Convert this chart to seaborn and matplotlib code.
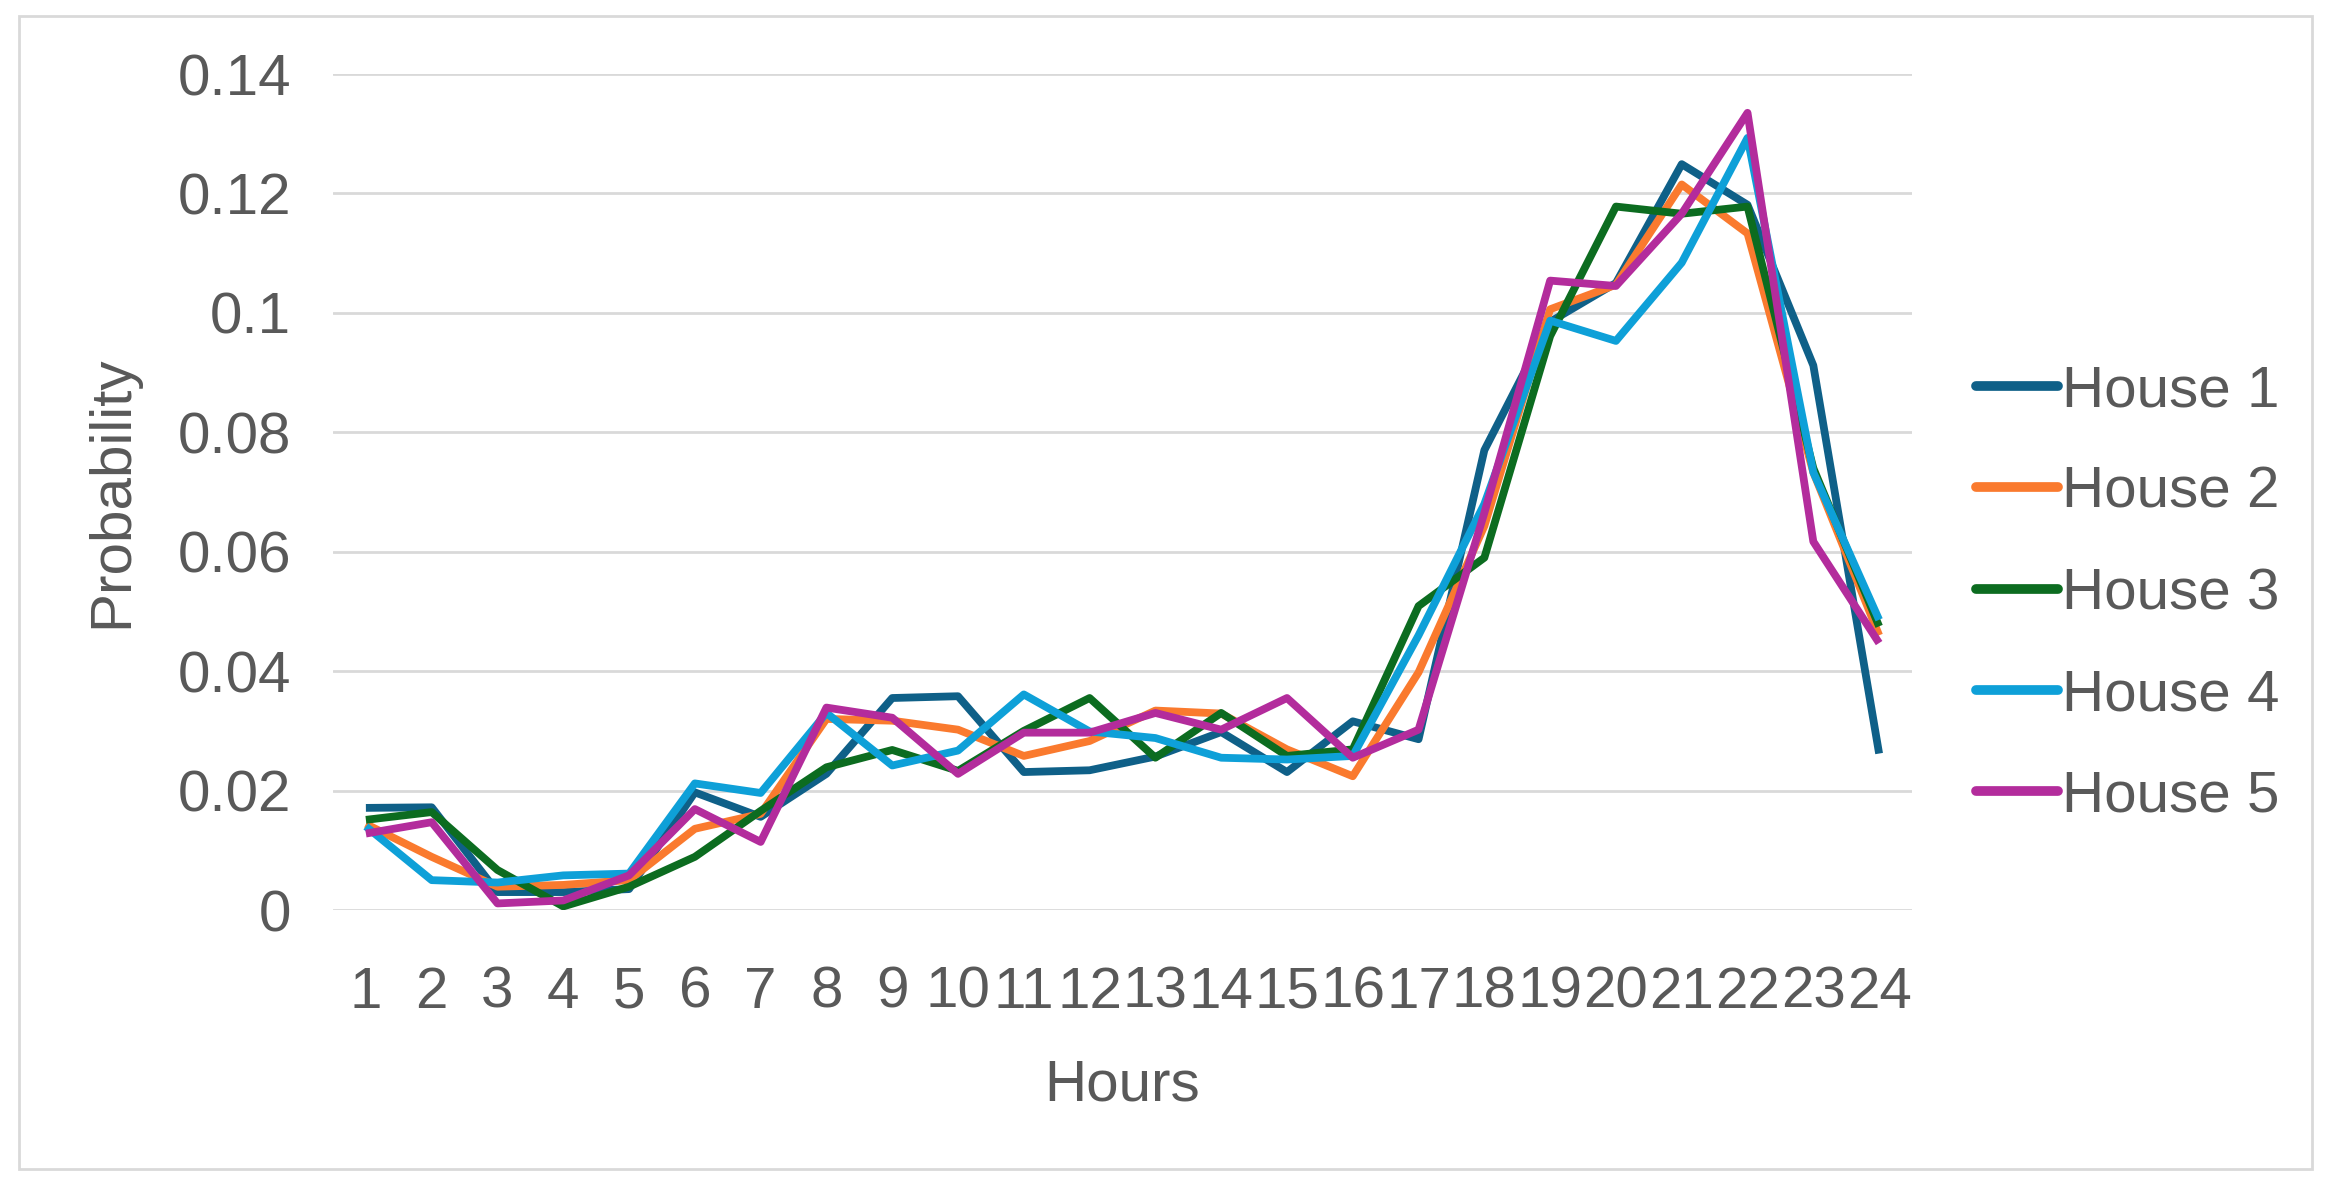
import numpy as np
import pandas as pd
import matplotlib
matplotlib.use("Agg")
import matplotlib.pyplot as plt
import seaborn as sns
from matplotlib.patches import Rectangle

hours = list(range(1, 25))
house1 = [0.0171, 0.0172, 0.0030, 0.0030, 0.0035, 0.0197, 0.0156, 0.0228, 0.0355, 0.0358,
          0.0231, 0.0234, 0.0257, 0.0298, 0.0231, 0.0316, 0.0286, 0.0770, 0.0985, 0.1050,
          0.1249, 0.1181, 0.0912, 0.0262]
house2 = [0.0144, 0.0089, 0.0039, 0.0042, 0.0050, 0.0136, 0.0161, 0.0320, 0.0317, 0.0302,
          0.0258, 0.0283, 0.0334, 0.0329, 0.0269, 0.0224, 0.0398, 0.0643, 0.1006, 0.1047,
          0.1215, 0.1133, 0.0733, 0.0460]
house3 = [0.0151, 0.0164, 0.0067, 0.0006, 0.0039, 0.0089, 0.0166, 0.0239, 0.0268, 0.0233,
          0.0300, 0.0355, 0.0255, 0.0330, 0.0258, 0.0269, 0.0509, 0.0590, 0.0961, 0.1178,
          0.1166, 0.1178, 0.0740, 0.0475]
house4 = [0.0140, 0.0050, 0.0046, 0.0058, 0.0061, 0.0212, 0.0196, 0.0330, 0.0242, 0.0267,
          0.0361, 0.0299, 0.0288, 0.0255, 0.0252, 0.0258, 0.0460, 0.0680, 0.0987, 0.0953,
          0.1084, 0.1293, 0.0733, 0.0486]
house5 = [0.0128, 0.0147, 0.0011, 0.0016, 0.0058, 0.0169, 0.0114, 0.0339, 0.0322, 0.0228,
          0.0297, 0.0297, 0.0330, 0.0302, 0.0355, 0.0255, 0.0302, 0.0665, 0.1054, 0.1045,
          0.1166, 0.1335, 0.0617, 0.0447]
house_names = ["House 1", "House 2", "House 3", "House 4", "House 5"]
colors = ["#0F6088", "#FA7A2E", "#0C6C20", "#0EA0D8", "#B32C9C"]
yticks = [0, 0.02, 0.04, 0.06, 0.08, 0.10, 0.12, 0.14]

series = [house1, house2, house3, house4, house5]
df = pd.DataFrame({
    "Hours": np.tile(hours, len(series)),
    "Probability": np.concatenate(series),
    "House": np.repeat(house_names, len(hours)),
})

sns.set_theme(style="white")
plt.rcParams["font.family"] = ["Liberation Sans", "DejaVu Sans"]
text_color = "#595959"
fs = 42

W, H = 2331, 1199
fig = plt.figure(figsize=(W / 100, H / 100), dpi=100)
ax = fig.add_axes([333 / W, 1 - 910 / H, (1912 - 333) / W, (910 - 74) / H])

sns.lineplot(data=df, x="Hours", y="Probability", hue="House", palette=colors,
             linewidth=5.6, ax=ax, legend=False, sort=False)
for ln in ax.lines:
    ln.set_linewidth(5.6)
    ln.set_solid_joinstyle("round")
    ln.set_solid_capstyle("butt")

ax.set_xlim(0.5, 24.5)
ax.set_ylim(0, 0.14)
ax.set_yticks(yticks)
ax.set_yticklabels([f"{v:g}" for v in yticks])
ax.set_xticks(hours)
ax.set_xticklabels([str(h) for h in hours])
ax.tick_params(axis="both", length=0, labelsize=fs, labelcolor=text_color)
ax.tick_params(axis="x", pad=40)
ax.tick_params(axis="y", pad=30)
ax.yaxis.grid(True, color="#D9D9D9", linewidth=2.0)
ax.xaxis.grid(False)
ax.set_axisbelow(True)
for s in ax.spines.values():
    s.set_visible(False)

ax.set_xlabel("Hours", fontsize=fs, color=text_color, labelpad=28)
ax.set_ylabel("Probability", fontsize=fs, color=text_color, labelpad=28)

handles = [plt.Line2D([0], [0], color=c, linewidth=7, solid_capstyle="round") for c in colors]
fig.legend(handles, house_names, loc="center left", bbox_to_anchor=(1976 / W, 1 - 594 / H),
           frameon=False, fontsize=fs, labelcolor=text_color, handlelength=1.4,
           handletextpad=0.08, labelspacing=0.81, borderpad=0, borderaxespad=0)

fig.patches.append(Rectangle((19 / W, 1 - 1169 / H), (2312 - 19) / W, (1169 - 16) / H,
                             transform=fig.transFigure, fill=False, edgecolor="#D9D9D9",
                             linewidth=2))

fig.savefig("out.png", dpi=100, facecolor="white")
